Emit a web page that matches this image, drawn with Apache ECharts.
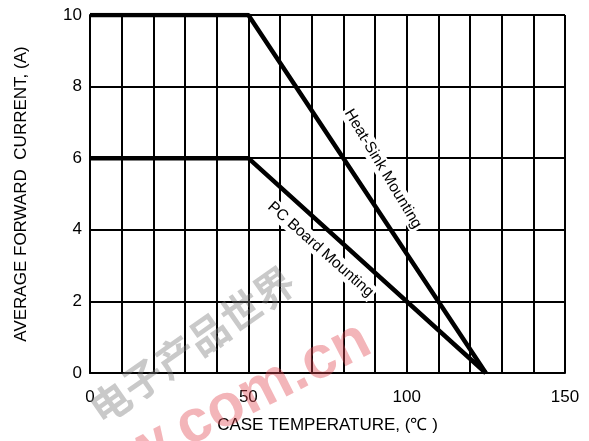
<!DOCTYPE html>
<html>
<head>
<meta charset="utf-8">
<script src="https://cdn.jsdelivr.net/npm/echarts@6/dist/echarts.min.js"></script>
<style>html,body{margin:0;padding:0;background:#fff}#c{width:589px;height:441px}</style>
</head>
<body>
<div id="c"></div>
<script>
var xTickLabels = [0, 50, 100, 150];
var yTickLabels = [0, 2, 4, 6, 8, 10];
var heatSinkTemp = [0, 50, 125];
var heatSinkCurrent = [10, 10, 0];
var pcBoardTemp = [0, 50, 125];
var pcBoardCurrent = [6, 6, 0];
var heatSinkLabelAt = [92.5, 5.7];
var pcBoardLabelAt = [72.8, 3.45];

function pairs(xs, ys) { return xs.map(function (x, i) { return [x, ys[i]]; }); }

var chart = echarts.init(document.getElementById('c'));
var font = 'Liberation Sans, Arial, sans-serif';
chart.setOption({
  animation: false,
  grid: { left: 90, right: 24, top: 15, bottom: 68 },
  xAxis: {
    type: 'value', min: 0, max: 150, interval: 10,
    name: 'CASE TEMPERATURE, (℃ )', nameLocation: 'middle', nameGap: 44,
    nameTextStyle: { color: '#000', fontSize: 17, fontFamily: font },
    axisLine: { show: true, lineStyle: { color: '#000', width: 2 } },
    axisTick: { show: false },
    axisLabel: {
      color: '#000', fontSize: 17, fontFamily: font, margin: 16,
      formatter: function (v) { return xTickLabels.indexOf(v) >= 0 ? String(v) : ''; }
    },
    splitLine: { show: true, lineStyle: { color: '#000', width: 2 } }
  },
  yAxis: {
    type: 'value', min: 0, max: 10, interval: 2,
    name: 'AVERAGE FORWARD  CURRENT, (A)', nameLocation: 'middle', nameGap: 60,
    nameTextStyle: { color: '#000', fontSize: 17, fontFamily: font },
    axisLine: { show: true, lineStyle: { color: '#000', width: 2 } },
    axisTick: { show: false },
    axisLabel: {
      color: '#000', fontSize: 17, fontFamily: font, margin: 8,
      formatter: function (v) { return yTickLabels.indexOf(v) >= 0 ? String(v) : ''; }
    },
    splitLine: { show: true, lineStyle: { color: '#000', width: 2 } }
  },
  series: [
    { type: 'line', name: 'Heat-Sink Mounting', data: pairs(heatSinkTemp, heatSinkCurrent),
      symbol: 'none', lineStyle: { color: '#000', width: 4.5 }, z: 5 },
    { type: 'line', name: 'PC Board Mounting', data: pairs(pcBoardTemp, pcBoardCurrent),
      symbol: 'none', lineStyle: { color: '#000', width: 4.5 }, z: 5 }
  ]
});

var p1 = chart.convertToPixel({ gridIndex: 0 }, heatSinkLabelAt);
var p2 = chart.convertToPixel({ gridIndex: 0 }, pcBoardLabelAt);
chart.setOption({
  graphic: [
    { type: 'text', x: p1[0], y: p1[1], rotation: -59 * Math.PI / 180, z: 10,
      style: { text: 'Heat-Sink Mounting', fill: '#000', font: '15.5px ' + font,
        align: 'center', verticalAlign: 'middle', backgroundColor: '#fff', padding: [1, 2] } },
    { type: 'text', x: p2[0], y: p2[1], rotation: -41.5 * Math.PI / 180, z: 10,
      style: { text: 'PC Board Mounting', fill: '#000', font: '15.5px ' + font,
        align: 'center', verticalAlign: 'middle', backgroundColor: '#fff', padding: [1, 2] } },
    { type: 'text', x: 192, y: 345, rotation: 35 * Math.PI / 180, z: 20, silent: true,
      style: { text: '电子产品世界', fill: 'rgba(120,120,120,0.4)', font: 'bold 40px Noto Sans CJK SC',
        align: 'center', verticalAlign: 'middle' } },
    { type: 'text', x: 200, y: 422, rotation: 27 * Math.PI / 180, z: 20, silent: true,
      style: { text: 'eepw.com.cn', fill: 'rgba(225,70,80,0.4)', font: 'bold 60px Liberation Sans',
        align: 'center', verticalAlign: 'middle' } }
  ]
});
</script>
</body>
</html>
